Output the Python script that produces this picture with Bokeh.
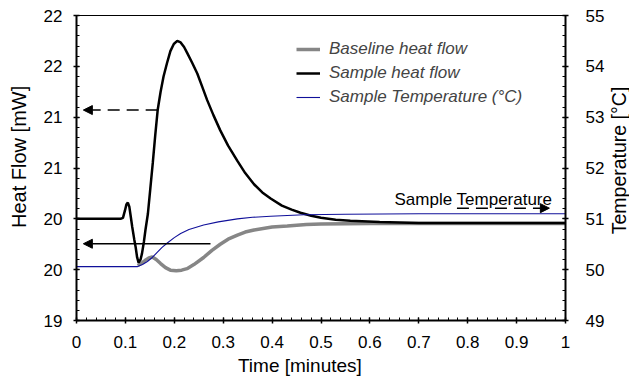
from bokeh.plotting import figure
from bokeh.layouts import row
from bokeh.models import (Range1d, LinearAxis, FixedTicker, Legend, LegendItem,
                          Arrow, NormalHead, Label)
from bokeh.embed import file_html
from bokeh.resources import INLINE
import numpy as np

# ---------------- data ----------------
t_sample = [0.000, 0.090, 0.095, 0.099, 0.102, 0.105, 0.108, 0.111, 0.114, 0.118,
            0.121, 0.124, 0.127, 0.131, 0.134, 0.138, 0.141, 0.146, 0.151, 0.156,
            0.161, 0.166, 0.172, 0.178, 0.185, 0.192, 0.199, 0.206, 0.213, 0.220,
            0.226, 0.236, 0.247, 0.257, 0.267, 0.280, 0.294, 0.310, 0.329, 0.345,
            0.363, 0.380, 0.397, 0.420, 0.440, 0.458, 0.480, 0.500, 0.530, 0.560,
            0.620, 0.700, 0.800, 0.900, 1.000]
hf_sample = [20.00, 20.00, 20.01, 20.08, 20.14, 20.16, 20.12, 20.02, 19.92, 19.80,
             19.72, 19.62, 19.57, 19.60, 19.66, 19.78, 19.89, 20.05, 20.30, 20.55,
             20.82, 21.07, 21.25, 21.40, 21.53, 21.65, 21.72, 21.75, 21.735, 21.69,
             21.635, 21.54, 21.43, 21.30, 21.17, 21.02, 20.87, 20.72, 20.57, 20.45,
             20.34, 20.26, 20.20, 20.13, 20.09, 20.06, 20.03, 20.01, 19.99, 19.98,
             19.97, 19.96, 19.96, 19.96, 19.96]

t_base = [0.125, 0.132, 0.140, 0.148, 0.155, 0.163, 0.172, 0.182, 0.192, 0.204,
          0.215, 0.226, 0.240, 0.260, 0.277, 0.294, 0.310, 0.329, 0.345, 0.363,
          0.400, 0.431, 0.470, 0.500, 0.600, 0.700, 0.800, 0.900, 1.000]
hf_base = [19.54, 19.56, 19.59, 19.615, 19.625, 19.60, 19.56, 19.52, 19.495, 19.49,
           19.495, 19.51, 19.55, 19.62, 19.69, 19.75, 19.80, 19.84, 19.87, 19.89,
           19.92, 19.93, 19.945, 19.95, 19.955, 19.955, 19.955, 19.955, 19.955]

t_temp = [0.000, 0.125, 0.135, 0.145, 0.155, 0.165, 0.175, 0.185, 0.200, 0.213,
          0.230, 0.260, 0.290, 0.329, 0.360, 0.397, 0.465, 0.550, 0.700, 0.850, 1.000]
temp_sample = [50.06, 50.06, 50.10, 50.16, 50.24, 50.34, 50.44, 50.52, 50.63, 50.71,
               50.79, 50.88, 50.94, 51.00, 51.03, 51.05, 51.08, 51.09, 51.10, 51.10, 51.10]

x_ticks = [0, 0.1, 0.2, 0.3, 0.4, 0.5, 0.6, 0.7, 0.8, 0.9, 1.0]
x_tick_labels = ["0", "0.1", "0.2", "0.3", "0.4", "0.5", "0.6", "0.7", "0.8", "0.9", "1"]
hf_ticks = [19, 19.5, 20, 20.5, 21, 21.5, 22]
hf_tick_labels = ["19", "20", "20", "21", "21", "22", "22"]
temp_ticks = [49, 50, 51, 52, 53, 54, 55]
temp_tick_labels = ["49", "50", "51", "52", "53", "54", "55"]

x_title = "Time [minutes]"
hf_title = "Heat Flow [mW]"
temp_title = "Temperature [°C]"

# annotation arrows (time, value) and label
arrow_hf_dashed = (0.166, 21.07, 0.014, 21.07)
arrow_hf_solid = (0.274, 19.755, 0.014, 19.755)
arrow_temp_dashed = (0.778, 51.21, 0.967, 51.21)
label_temp = (0.973, 51.39, "Sample Temperature")

FONT = "Liberation Sans"
NB = "\u00a0"

p = figure(width=609, height=381, x_range=Range1d(0, 1), y_range=Range1d(19, 22),
           output_backend="svg", toolbar_location=None, title=None,
           min_border_left=76, min_border_right=44, min_border_top=15,
           min_border_bottom=61)
p.extra_y_ranges = {"temp": Range1d(49, 55)}
p.grid.visible = False
p.outline_line_color = "black"
p.outline_line_width = 1
p.background_fill_color = "white"
p.border_fill_color = "white"

r_base = p.line(t_base, hf_base, line_color="#868686", line_width=3.5)
r_sample = p.line(t_sample, hf_sample, line_color="black", line_width=2.5)
r_temp = p.line(t_temp, temp_sample, line_color="#10109a", line_width=1.1,
                y_range_name="temp")

right_axis = LinearAxis(y_range_name="temp")
p.add_layout(right_axis, "right")

p.xaxis.ticker = FixedTicker(ticks=x_ticks, minor_ticks=list(np.round(np.arange(0, 1.0001, 0.02), 3)))
p.xaxis.major_label_overrides = {k: v for k, v in zip(x_ticks, x_tick_labels)}
p.yaxis[0].ticker = FixedTicker(ticks=hf_ticks, minor_ticks=list(np.round(np.arange(19, 22.0001, 0.1), 2)))
p.yaxis[0].major_label_overrides = {k: v for k, v in zip(hf_ticks, hf_tick_labels)}
right_axis.ticker = FixedTicker(ticks=temp_ticks, minor_ticks=list(np.round(np.arange(49, 55.0001, 0.2), 2)))
right_axis.major_label_overrides = {k: v for k, v in zip(temp_ticks, temp_tick_labels)}

for ax in [p.xaxis[0], p.yaxis[0], right_axis]:
    ax.axis_line_width = 2
    ax.axis_line_color = "black"
    ax.major_tick_in = 3
    ax.major_tick_out = 3
    ax.major_tick_line_width = 1.5
    ax.minor_tick_in = 3
    ax.minor_tick_out = 0
    ax.minor_tick_line_width = 1
    ax.major_label_text_font = FONT
    ax.major_label_text_font_size = "17px"
    ax.major_label_text_color = "black"
    ax.axis_label_text_font = FONT
    ax.axis_label_text_font_style = "normal"
    ax.axis_label_text_color = "black"
p.xaxis[0].major_label_standoff = 12
p.yaxis[0].major_label_standoff = 11
right_axis.major_label_standoff = 17

# axis titles, padded with no-break spaces to sit off-centre like the reference
p.xaxis[0].axis_label = x_title + NB * 8
p.xaxis[0].axis_label_text_font_size = "19px"
p.xaxis[0].axis_label_standoff = 4
p.yaxis[0].axis_label = NB * 4 + hf_title
p.yaxis[0].axis_label_text_font_size = "20px"
p.yaxis[0].axis_label_standoff = 11

legend = Legend(items=[LegendItem(label="Baseline heat flow", renderers=[r_base]),
                       LegendItem(label="Sample heat flow", renderers=[r_sample]),
                       LegendItem(label="Sample Temperature (°C)", renderers=[r_temp])],
                location=(220, 213), label_text_font=FONT, label_text_font_style="italic",
                label_text_font_size="17px", glyph_width=24, glyph_height=20,
                label_height=20, spacing=4, padding=0, margin=0, label_standoff=9,
                border_line_color=None, background_fill_alpha=0)
p.add_layout(legend)

def head():
    return NormalHead(size=9, fill_color="black", line_color="black", line_width=1)

x0, y0, x1, y1 = arrow_hf_dashed
p.add_layout(Arrow(end=head(), x_start=x0, y_start=y0, x_end=x1, y_end=y1,
                   line_dash="12 7", line_width=1.5, line_color="black"))
x0, y0, x1, y1 = arrow_hf_solid
p.add_layout(Arrow(end=head(), x_start=x0, y_start=y0, x_end=x1, y_end=y1,
                   line_width=1.5, line_color="black"))
x0, y0, x1, y1 = arrow_temp_dashed
p.add_layout(Arrow(end=head(), x_start=x0, y_start=y0, x_end=x1, y_end=y1,
                   line_dash="12 7", line_width=1.5, line_color="black",
                   y_range_name="temp"))
lx, ly, ltxt = label_temp
p.add_layout(Label(x=lx, y=ly, text=ltxt, text_align="right", text_baseline="alphabetic",
                   y_range_name="temp", text_font=FONT, text_font_size="17px",
                   text_color="black"))

# right-hand axis title, reading bottom-to-top, in a narrow strip beside the plot
q = figure(width=20, height=381, x_range=Range1d(0, 1), y_range=Range1d(0, 1),
           output_backend="svg", toolbar_location=None, title=None,
           x_axis_location=None, y_axis_location=None, min_border=0)
q.grid.visible = False
q.outline_line_color = None
q.border_fill_color = "white"
title_r = Label(x=9, y=160, x_units="screen", y_units="screen", text=temp_title,
                angle=np.pi / 2, text_align="center", text_baseline="middle",
                text_font=FONT, text_font_size="19.5px", text_color="black")
if "anchor" in title_r.properties():
    title_r.anchor = "center"
q.add_layout(title_r)

layout = row(p, q, spacing=0)
open("out.html", "w").write(file_html(layout, INLINE))
